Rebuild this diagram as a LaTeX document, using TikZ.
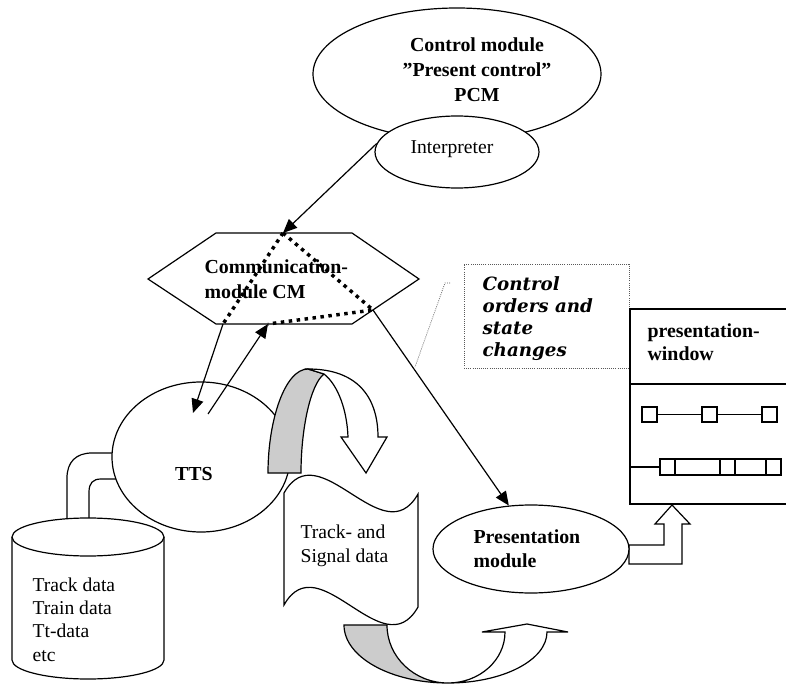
\documentclass[tikz,border=0pt]{standalone}
\usepackage{fontspec}
\setmainfont{Liberation Serif}
\newfontfamily\callfont{DejaVu Serif}
\usetikzlibrary{arrows.meta,shapes.geometric}
\begin{document}
\begin{tikzpicture}[x=0.75pt,y=-0.75pt,line width=0.9pt,
  ell/.style={ellipse, draw, fill=white, inner sep=0pt},
  arr/.style={-{Triangle[length=10.5pt,width=9pt]}},
  dotsline/.style={line width=2.6pt, dash pattern=on 2.6pt off 3.4pt},
  callline/.style={line width=0.6pt, densely dotted, black!65},
  txt/.style={inner sep=0pt, align=left},
  greyband/.style={fill=black!20, draw},
  whiteband/.style={fill=white, draw},
  sq/.style={draw, rectangle, minimum size=11.25pt, inner sep=0pt, line width=0.8pt}
]
\useasboundingbox (0,0) rectangle (786,688);

% Control module PCM
\node[ell, minimum width=216pt, minimum height=99pt] (pcm) at (457,74) {};
\node[ell, minimum width=123pt, minimum height=54pt] (interp) at (457,152) {};
\node[inner sep=0pt, align=center, anchor=base, font=\fontsize{14.9pt}{18.75pt}\selectfont\bfseries] (pcmtext) at (477,102) {Control module\\”Present control”\\PCM};
\node[inner sep=0pt, anchor=base, font=\fontsize{14.7pt}{17pt}\selectfont] (interptext) at (452,154) {Interpreter};

% Communication module hexagon
\coordinate (hL) at (148,279);
\coordinate (hTL) at (216,233);
\coordinate (hTR) at (352,233);
\coordinate (hR) at (419,279);
\coordinate (hBR) at (352,324);
\coordinate (hBL) at (216,324);
\filldraw[fill=white] (hL) -- (hTL) -- (hTR) -- (hR) -- (hBR) -- (hBL) -- cycle;
\node[txt, anchor=base west, font=\fontsize{14.9pt}{19.5pt}\selectfont\bfseries] (cmtext) at (204,299) {Communication-\\module CM};

\coordinate (cmTop) at (283,233);
\coordinate (dL) at (223,324);
\coordinate (dR) at (373,310);
\coordinate (dB) at (268,324);
\draw[arr] (interp.174) -- (cmTop);
\draw[dotsline] (cmTop) -- (dL);
\draw[dotsline] (cmTop) -- (dR) -- (dB);

% pipe from database to TTS
\filldraw[fill=white] (67,530) -- (67,478) .. controls (67,462) and (76,453) .. (92,453) -- (125,453) -- (125,479) -- (101,479) .. controls (93,479) and (89,483) .. (89,492) -- (89,530) -- cycle;

% database cylinder
\filldraw[fill=white] (12,537) -- (12,660) .. controls (12,670.5) and (46,679) .. (88,679) .. controls (130,679) and (164,670.5) .. (164,660) -- (164,537) .. controls (164,526.5) and (130,518) .. (88,518) .. controls (46,518) and (12,526.5) .. (12,537) -- cycle;
\draw (12,537) .. controls (12,547.5) and (46,556) .. (88,556) .. controls (130,556) and (164,547.5) .. (164,537);
\node[txt, anchor=base west, font=\fontsize{14.7pt}{17.5pt}\selectfont] (dbtext) at (32,661) {Track data\\Train data\\Tt-data\\etc};

% TTS
\node[ell, minimum width=133.5pt, minimum height=112.5pt] (tts) at (201,457) {};
\node[inner sep=0pt, anchor=base, font=\fontsize{14.9pt}{18pt}\selectfont\bfseries] (ttstext) at (194,480) {TTS};

% top curved arrow
\filldraw[greyband] (268,473) .. controls (268,420) and (285,369) .. (308,369) -- (324,374) .. controls (310,385) and (301,430) .. (301,473) -- cycle;
\filldraw[whiteband] (308,369) .. controls (360,369) and (378,400) .. (378,437) -- (387,437) -- (366,473) -- (341,437) -- (348,437) .. controls (347,410) and (338,385) .. (324,374) -- cycle;

% bottom curved arrow
\filldraw[greyband] (344,625) .. controls (344,657) and (390.6,683) .. (448,683) .. controls (414.3,683) and (387,657) .. (387,625) -- cycle;
\filldraw[whiteband] (448,683) .. controls (502.7,683) and (547,660.2) .. (547,632) -- (568,632) -- (527,624) -- (482,632) -- (505,632) .. controls (505,660.2) and (479.5,683) .. (448,683) -- cycle;

% document
\filldraw[fill=white] (284,493) .. controls (319,431) and (383,556) .. (418,494) -- (418,607) .. controls (383,669) and (319,543) .. (284,605) -- cycle;
\node[txt, anchor=base west, font=\fontsize{14.7pt}{18pt}\selectfont] (doctext) at (300,562) {Track- and\\Signal data};

% block arrow to window
\filldraw[fill=white] (629,545) -- (664,545) -- (664,524) -- (655,524) -- (672,505) -- (690,524) -- (682,524) -- (682,564) -- (629,564) -- cycle;

% presentation module
\node[ell, minimum width=147pt, minimum height=66pt] (pm) at (531,549) {};
\node[txt, anchor=base west, font=\fontsize{14.9pt}{18pt}\selectfont\bfseries] (pmtext) at (473,567) {Presentation\\module};

% arrows between CM and TTS / PM
\coordinate (ttsIn) at (193,413);
\coordinate (ttsOut) at (208,414);
\draw[arr] (dL) -- (ttsIn);
\draw[arr] (ttsOut) -- (dB);
\draw[arr] (dR) -- (pm.117);

% callout
\node[draw, callline, minimum width=123.75pt, minimum height=78pt, inner sep=0pt] (callbox) at (546.5,316) {};
\node[txt, anchor=base west, font=\fontsize{13.7pt}{16.3pt}\selectfont\callfont\bfseries\itshape] (calltext) at (482,356) {Control\\orders and\\state\\changes};
\coordinate (c1) at (450,283);
\coordinate (c2) at (445,283);
\coordinate (c3) at (415,367);
\draw[callline] (c1) -- (c2) -- (c3);

% presentation window
\draw (786,309) -- (630,309) -- (630,504) -- (786,504);
\draw (630,384) -- (786,384);
\node[txt, anchor=base west, font=\fontsize{14.9pt}{16.9pt}\selectfont\bfseries] (wintext) at (647,360) {presentation-\\window};
\node[sq] (q1) at (649.5,414.5) {};
\node[sq] (q2) at (709.5,414.5) {};
\node[sq] (q3) at (769.5,414.5) {};
\draw[line width=0.8pt] (q1) -- (q2);
\draw[line width=0.8pt] (q2) -- (q3);
\coordinate (r0) at (630,467);
\coordinate (r1) at (660,467);
\draw[line width=0.8pt] (r0) -- (r1);
\draw[line width=0.8pt] (660,459) rectangle (781,475);
\draw[line width=0.8pt] (675,459) -- (675,475);
\draw[line width=0.8pt] (720,459) -- (720,475);
\draw[line width=0.8pt] (735,459) -- (735,475);
\draw[line width=0.8pt] (766,459) -- (766,475);
\end{tikzpicture}
\end{document}
